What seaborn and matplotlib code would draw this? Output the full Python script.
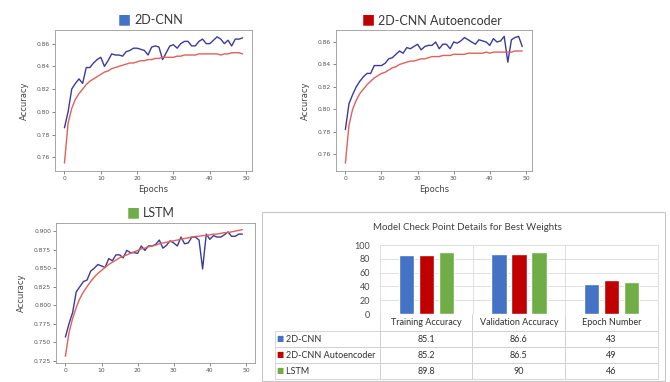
import numpy as np
import pandas as pd
import matplotlib.pyplot as plt
import seaborn as sns
from matplotlib.patches import Rectangle
from matplotlib.table import Table

# === Data ===
epochs = list(range(50))

cnn_val = [0.786, 0.800, 0.820, 0.825, 0.829, 0.825, 0.839, 0.839, 0.843, 0.846,
           0.848, 0.840, 0.845, 0.851, 0.850, 0.850, 0.849, 0.853, 0.854, 0.856,
           0.856, 0.855, 0.854, 0.850, 0.857, 0.858, 0.857, 0.846, 0.852, 0.858,
           0.859, 0.856, 0.860, 0.862, 0.862, 0.858, 0.858, 0.862, 0.864, 0.860,
           0.860, 0.863, 0.866, 0.864, 0.860, 0.863, 0.858, 0.864, 0.864, 0.865]
cnn_train = [0.755, 0.790, 0.803, 0.811, 0.816, 0.820, 0.824, 0.827, 0.829, 0.831,
             0.833, 0.835, 0.836, 0.838, 0.839, 0.840, 0.841, 0.842, 0.843, 0.843,
             0.844, 0.845, 0.845, 0.846, 0.846, 0.847, 0.847, 0.848, 0.848, 0.848,
             0.848, 0.849, 0.849, 0.850, 0.850, 0.850, 0.850, 0.851, 0.851, 0.851,
             0.851, 0.851, 0.851, 0.850, 0.851, 0.851, 0.852, 0.852, 0.852, 0.851]

ae_val = [0.782, 0.805, 0.813, 0.820, 0.825, 0.829, 0.832, 0.832, 0.839, 0.839,
          0.839, 0.841, 0.845, 0.846, 0.849, 0.852, 0.850, 0.855, 0.854, 0.856,
          0.858, 0.853, 0.856, 0.857, 0.857, 0.860, 0.854, 0.858, 0.858, 0.854,
          0.860, 0.859, 0.861, 0.864, 0.862, 0.860, 0.858, 0.862, 0.861, 0.860,
          0.857, 0.863, 0.860, 0.861, 0.865, 0.842, 0.862, 0.864, 0.865, 0.856]
ae_train = [0.752, 0.786, 0.800, 0.808, 0.814, 0.818, 0.822, 0.825, 0.828, 0.830,
            0.832, 0.833, 0.835, 0.837, 0.838, 0.840, 0.841, 0.842, 0.843, 0.843,
            0.844, 0.845, 0.845, 0.846, 0.847, 0.847, 0.847, 0.848, 0.848, 0.848,
            0.849, 0.849, 0.849, 0.849, 0.850, 0.850, 0.850, 0.850, 0.850, 0.851,
            0.850, 0.851, 0.851, 0.851, 0.851, 0.851, 0.851, 0.852, 0.852, 0.852]

lstm_val = [0.757, 0.775, 0.790, 0.818, 0.825, 0.832, 0.834, 0.846, 0.850, 0.855,
            0.853, 0.851, 0.863, 0.860, 0.868, 0.868, 0.864, 0.874, 0.871, 0.871,
            0.870, 0.880, 0.874, 0.880, 0.880, 0.882, 0.888, 0.877, 0.881, 0.887,
            0.884, 0.880, 0.892, 0.883, 0.884, 0.892, 0.892, 0.888, 0.849, 0.896,
            0.889, 0.894, 0.892, 0.892, 0.895, 0.899, 0.893, 0.893, 0.896, 0.896]
lstm_train = [0.731, 0.763, 0.782, 0.797, 0.809, 0.818, 0.825, 0.832, 0.838, 0.843,
              0.847, 0.851, 0.855, 0.858, 0.861, 0.864, 0.866, 0.868, 0.870, 0.872,
              0.874, 0.876, 0.877, 0.879, 0.880, 0.881, 0.883, 0.884, 0.885, 0.886,
              0.887, 0.888, 0.889, 0.890, 0.891, 0.892, 0.893, 0.893, 0.894, 0.894,
              0.895, 0.896, 0.896, 0.897, 0.898, 0.898, 0.899, 0.900, 0.901, 0.902]

models = ['2D-CNN', '2D-CNN Autoencoder', 'LSTM']
metrics = ['Training Accuracy', 'Validation Accuracy', 'Epoch Number']
cnn_best = [85.1, 86.6, 43]
ae_best = [85.2, 86.5, 49]
lstm_best = [89.8, 90, 46]
model_colors = ['#4472c4', '#c00000', '#70ad47']

VAL_C = '#3a3a9e'
TRAIN_C = '#e0605a'
W, H = 670, 382
TITLE_FONT = ['Lato', 'DejaVu Sans']

sns.set_style('ticks')
plt.rcParams['font.family'] = ['DejaVu Sans']

fig = plt.figure(figsize=(6.7, 3.82), dpi=100)


def px_rect(left, top, right, bottom):
    return [left / W, 1 - bottom / H, (right - left) / W, (bottom - top) / H]


def curve_panel(rect, val, train, xlim, ylim, yticks, fmt, xlabel=True):
    ax = fig.add_axes(rect)
    sns.lineplot(x=epochs, y=val, ax=ax, color=VAL_C, lw=1.0)
    sns.lineplot(x=epochs, y=train, ax=ax, color=TRAIN_C, lw=1.0)
    ax.set_xlim(*xlim)
    ax.set_ylim(*ylim)
    ax.set_xticks(range(0, 51, 10))
    ax.set_yticks(yticks)
    ax.set_yticklabels([fmt % v for v in yticks])
    ax.tick_params(labelsize=4.3, colors='#555555', length=2, width=0.5, pad=1.5)
    for s in ax.spines.values():
        s.set_color('#999999')
        s.set_linewidth(0.6)
        s.set_visible(True)
    ax.set_ylabel('Accuracy', fontsize=6, color='#444444', labelpad=6)
    if xlabel:
        ax.set_xlabel('Epochs', fontsize=6, color='#444444', labelpad=3)
    return ax


def panel_title(cx, baseline, text, color):
    t = fig.text(cx / W, 1 - baseline / H, text, fontsize=9, color='#383838',
                 ha='center', va='baseline', family=TITLE_FONT)
    plt.annotate('■', xy=(0, 0), xycoords=t, xytext=(-3, 0.5),
                 textcoords='offset pixels', ha='right', va='bottom',
                 fontsize=10, color=color, family=['DejaVu Sans'])


# === Training curves ===
curve_panel(px_rect(55, 30, 252, 171), cnn_val, cnn_train, (-2.6, 51.6),
            (0.748, 0.872), np.arange(0.76, 0.861, 0.02), '%.2f')
curve_panel(px_rect(336, 30, 532, 171), ae_val, ae_train, (-2.6, 51.7),
            (0.745, 0.8707), np.arange(0.76, 0.861, 0.02), '%.2f')
curve_panel(px_rect(56, 223, 255, 363), lstm_val, lstm_train, (-2.6, 52.5),
            (0.722, 0.911), np.arange(0.725, 0.901, 0.025), '%.3f', xlabel=False)

panel_title(158.5, 24.3, '2D-CNN', model_colors[0])
panel_title(440, 24.8, '2D-CNN Autoencoder', model_colors[1])
panel_title(158.5, 217.3, 'LSTM', model_colors[2])

# === Best weights panel ===
fig.patches.append(Rectangle((262 / W, 1 - 381 / H), 403 / W, 169 / H,
                             transform=fig.transFigure, fill=False,
                             edgecolor='#c8c8c8', lw=0.8))
fig.text(467 / W, 1 - 228 / H, 'Model Check Point Details for Best Weights',
         fontsize=7, color='#404040', ha='center', va='center', family=TITLE_FONT)

bar_df = pd.DataFrame({
    'metric': metrics * 3,
    'model': np.repeat(models, 3),
    'value': cnn_best + ae_best + lstm_best,
})

axb = fig.add_axes(px_rect(380, 245, 658, 314))
sns.barplot(data=bar_df, x='metric', y='value', hue='model', palette=model_colors,
            width=0.645, gap=0.23, saturation=1, legend=False, ax=axb, zorder=3)
axb.set_xlim(-0.5, 2.5)
axb.set_ylim(0, 100)
axb.set_yticks(range(0, 101, 20))
axb.set_xticks([])
axb.set_xlabel('')
axb.set_ylabel('')
axb.grid(axis='y', color='#d9d9d9', lw=0.6)
for xb in [0.5, 1.5]:
    axb.axvline(xb, color='#d9d9d9', lw=0.6)
for side in ['top', 'bottom']:
    axb.spines[side].set_visible(False)
for side in ['left', 'right']:
    axb.spines[side].set_visible(True)
    axb.spines[side].set_color('#d9d9d9')
    axb.spines[side].set_linewidth(0.6)
axb.tick_params(axis='y', length=0, labelsize=6.5, colors='#4a4a4a', pad=7)
for lab in axb.get_yticklabels():
    lab.set_family(TITLE_FONT)

# === Table below the bars ===
col_w = np.array([105, 93, 93, 93]) / 383
row_h = np.array([17, 16, 16, 16]) / 65
tb = Table(axb, bbox=[-105 / 278, -65 / 69, 383 / 278, 65 / 69])
values = [cnn_best, ae_best, lstm_best]
for c in range(4):
    cell = tb.add_cell(0, c, col_w[c], row_h[0],
                       text='' if c == 0 else metrics[c - 1], loc='center',
                       edgecolor='#d0d0d0', facecolor='none')
    cell.visible_edges = '' if c == 0 else 'LRB'
for r in range(3):
    tb.add_cell(r + 1, 0, col_w[0], row_h[r + 1], text='    ' + models[r],
                loc='left', edgecolor='#d0d0d0', facecolor='none')
    for c in range(3):
        v = values[r][c]
        tb.add_cell(r + 1, c + 1, col_w[c + 1], row_h[r + 1],
                    text=('%g' % v), loc='center',
                    edgecolor='#d0d0d0', facecolor='none')
tb.auto_set_font_size(False)
tb.set_fontsize(6.5)
for cell in tb.get_celld().values():
    cell.set_linewidth(0.6)
    cell.PAD = 0.02
    cell.get_text().set_family(TITLE_FONT)
    cell.get_text().set_color('#303030')
axb.add_table(tb)

# legend keys in the row-label column
row_centers = [339, 355, 371]
for r, yc in enumerate(row_centers):
    axb.text((280 - 380) / 278, (314 - yc) / 69, '■', transform=axb.transAxes,
             ha='center', va='center', fontsize=5.5, color=model_colors[r],
             clip_on=False)

fig.savefig('out.png', dpi=100)
